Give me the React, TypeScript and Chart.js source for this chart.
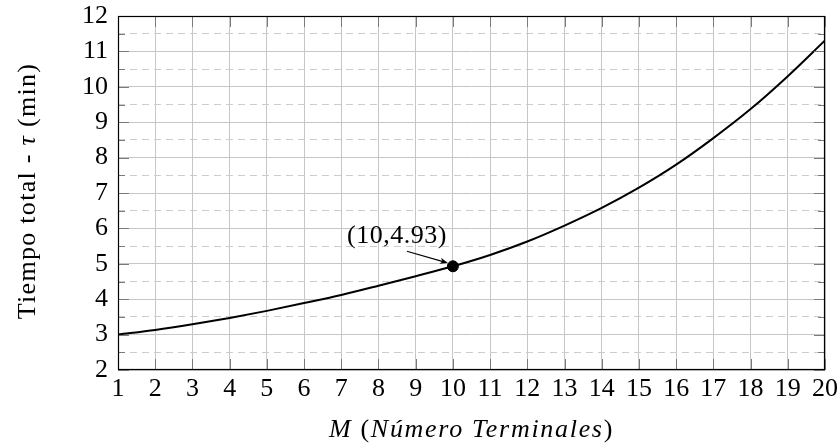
import React, { useEffect, useRef } from 'react';
import { Chart, registerables } from 'chart.js';

Chart.register(...registerables);

// ---- data ----
const terminals = [1, 2, 3, 4, 5, 6, 7, 8, 9, 10, 11, 12, 13, 14, 15, 16, 17, 18, 19, 20];
const totalTime = [3.0, 3.13, 3.29, 3.47, 3.67, 3.89, 4.12, 4.38, 4.65, 4.93, 5.25, 5.63, 6.08, 6.58, 7.15, 7.8, 8.55, 9.37, 10.3, 11.31];
const highlightX = [10];
const highlightY = [4.93];
const highlightLabel = '(10,4.93)';
const xRange = [1, 20];
const yRange = [2, 12];
const xTitleParts: [string, boolean][] = [['M', true], [' (', false], ['Número Terminales', true], [')', false]];
const yTitleParts: [string, boolean][] = [['Tiempo total - ', false], ['τ', true], [' (min)', false]];

const FAMILY = '"Liberation Serif", "DejaVu Serif", serif';
const SIZE = 26;

function drawParts(ctx: CanvasRenderingContext2D, parts: [string, boolean][], cx: number, cy: number, spacing: number) {
  (ctx as any).letterSpacing = `${spacing}px`;
  let total = 0;
  const widths: number[] = [];
  parts.forEach(([t, it]) => {
    ctx.font = `${it ? 'italic ' : ''}${SIZE}px ${FAMILY}`;
    const w = ctx.measureText(t).width;
    widths.push(w);
    total += w;
  });
  let x = cx - total / 2;
  ctx.textBaseline = 'alphabetic';
  ctx.textAlign = 'left';
  ctx.fillStyle = '#000';
  parts.forEach(([t, it], i) => {
    ctx.font = `${it ? 'italic ' : ''}${SIZE}px ${FAMILY}`;
    ctx.fillText(t, x, cy);
    x += widths[i];
  });
  (ctx as any).letterSpacing = '0px';
}

const framePlugin = {
  id: 'framePlugin',
  afterDraw(chart: any) {
    const { ctx, chartArea: a, scales } = chart;
    const xs = scales.x;
    const ys = scales.y;
    ctx.save();
    ctx.strokeStyle = '#7a7a7a';
    ctx.lineWidth = 1;
    ctx.beginPath();
    for (let v = xRange[0]; v <= xRange[1]; v++) {
      const px = Math.round(xs.getPixelForValue(v)) + 0.5;
      ctx.moveTo(px, a.bottom);
      ctx.lineTo(px, a.bottom - 11);
      ctx.moveTo(px, a.top);
      ctx.lineTo(px, a.top + 11);
    }
    for (let v = yRange[0]; v <= yRange[1]; v += 0.5) {
      const py = Math.round(ys.getPixelForValue(v)) + 0.5;
      const len = Number.isInteger(v) ? 11 : 7;
      ctx.moveTo(a.left, py);
      ctx.lineTo(a.left + len, py);
      ctx.moveTo(a.right, py);
      ctx.lineTo(a.right - len, py);
    }
    ctx.stroke();
    ctx.strokeStyle = '#000';
    ctx.lineWidth = 1.2;
    ctx.strokeRect(Math.round(a.left) + 0.5, Math.round(a.top) + 0.5, Math.round(a.right - a.left) - 1, Math.round(a.bottom - a.top) - 1);

    const px = xs.getPixelForValue(highlightX[0]);
    const py = ys.getPixelForValue(highlightY[0]);
    const sx = px - 46, sy = py - 15;
    const tx = px - 5, ty = py - 3.3;
    const ang = Math.atan2(ty - sy, tx - sx);
    ctx.strokeStyle = '#000';
    ctx.fillStyle = '#000';
    ctx.lineWidth = 1.2;
    ctx.beginPath();
    ctx.moveTo(sx, sy);
    ctx.lineTo(tx - 5 * Math.cos(ang), ty - 5 * Math.sin(ang));
    ctx.stroke();
    const hl = 8, hw = 3.2;
    ctx.beginPath();
    ctx.moveTo(tx, ty);
    ctx.lineTo(tx - hl * Math.cos(ang) + hw * Math.sin(ang), ty - hl * Math.sin(ang) - hw * Math.cos(ang));
    ctx.lineTo(tx - hl * 0.7 * Math.cos(ang), ty - hl * 0.7 * Math.sin(ang));
    ctx.lineTo(tx - hl * Math.cos(ang) - hw * Math.sin(ang), ty - hl * Math.sin(ang) + hw * Math.cos(ang));
    ctx.closePath();
    ctx.fill();
    (ctx as any).letterSpacing = '0.5px';
    ctx.font = `${SIZE}px ${FAMILY}`;
    ctx.textAlign = 'center';
    ctx.textBaseline = 'alphabetic';
    ctx.fillText(highlightLabel, px - 56, py - 23.5);
    (ctx as any).letterSpacing = '0px';

    drawParts(ctx, xTitleParts, (a.left + a.right) / 2, 437, 1.7);
    ctx.translate(27, (a.top + a.bottom) / 2 - 2);
    ctx.rotate(-Math.PI / 2);
    drawParts(ctx, yTitleParts, 0, 8, 1.3);
    ctx.restore();
  },
};

export default function App() {
  const ref = useRef<HTMLCanvasElement | null>(null);
  useEffect(() => {
    document.body.style.margin = '0';
    const canvas = ref.current;
    if (!canvas) return;
    const chart = new Chart(canvas, {
      type: 'line',
      data: {
        datasets: [
          {
            data: terminals.map((x, i) => ({ x, y: totalTime[i] })),
            borderColor: '#000',
            borderWidth: 2,
            pointRadius: 0,
            fill: false,
            cubicInterpolationMode: 'monotone',
          },
          {
            data: highlightX.map((x, i) => ({ x, y: highlightY[i] })),
            showLine: false,
            pointRadius: 5.5,
            pointBackgroundColor: '#000',
            pointBorderColor: '#000',
            pointBorderWidth: 1,
          },
        ],
      },
      options: {
        responsive: false,
        animation: false,
        events: [],
        layout: { padding: { left: 0, top: 16, right: 14, bottom: 0 } },
        plugins: { legend: { display: false }, tooltip: { enabled: false }, title: { display: false } },
        scales: {
          x: {
            type: 'linear',
            min: xRange[0],
            max: xRange[1],
            afterFit: (s: any) => { s.height = 76; s.paddingLeft = 0; s.paddingRight = 0; },
            ticks: {
              stepSize: 1,
              autoSkip: false,
              maxRotation: 0,
              padding: 4,
              color: '#000',
              font: { family: FAMILY, size: SIZE },
            },
            grid: { color: '#c6c6c6', lineWidth: 1, drawTicks: false },
            border: { display: false },
          },
          y: {
            type: 'linear',
            min: yRange[0],
            max: yRange[1],
            afterFit: (s: any) => { s.width = 118; s.paddingTop = 0; s.paddingBottom = 0; },
            ticks: {
              stepSize: 0.5,
              autoSkip: false,
              padding: 10,
              color: '#000',
              font: { family: FAMILY, size: SIZE },
              callback: (v: any) => (Number.isInteger(Number(v)) ? String(v) : ''),
            },
            grid: {
              color: (c: any) => (c.tick && !Number.isInteger(c.tick.value) ? '#cccccc' : '#c6c6c6'),
              lineWidth: 1,
              drawTicks: false,
            },
            border: {
              display: false,
              dash: (c: any) => (c.tick && !Number.isInteger(c.tick.value) ? [7, 5] : []),
            },
          },
        },
      },
      plugins: [framePlugin],
    } as any);
    return () => chart.destroy();
  }, []);
  return <canvas ref={ref} width={839} height={446} style={{ display: 'block' }} />;
}
